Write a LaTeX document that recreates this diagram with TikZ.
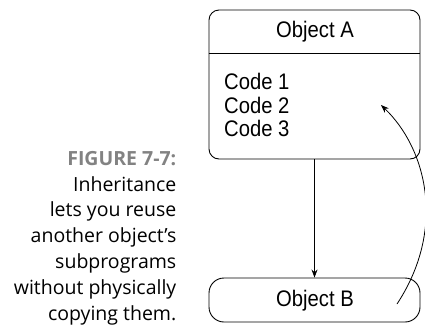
\documentclass[tikz,border=0pt]{standalone}
\usepackage{fontspec}
\setmainfont{Open Sans}
\newfontfamily\condfont[FakeStretch=0.9]{Liberation Sans}
\usetikzlibrary{arrows.meta,positioning}
\definecolor{capgray}{RGB}{130,130,130}

\begin{document}
\begin{tikzpicture}[x=1pt,y=-1pt,
    objbox/.style={draw, line width=0.9pt, minimum width=211pt, inner sep=0pt},
    objtext/.style={font=\condfont\fontsize{22.5}{23.5}\selectfont},
    link/.style={line width=0.8pt, -{Stealth[length=8pt,width=6pt]}}]
   \useasboundingbox (0,0) rectangle (425,327);

   % Draw object boxes
    \node[objbox, rounded corners=10pt, minimum height=149pt] (objA) at (314.5,84.5) {};
    \node[objbox, rounded corners=15pt, minimum height=44pt] (objB) at (314.5,300) {};
    \draw[line width=0.9pt] (objA.west |- 0,53) -- (objA.east |- 0,53);

    % Labels inside the boxes
    \node[objtext] (titleA) at (315,32) {Object A};
    \node[objtext, anchor=north west, align=left, inner sep=0pt] (codeA) at (224,73) {Code 1\\Code 2\\Code 3};
    \node[objtext] (titleB) at (315,301) {Object B};

    % Inheritance links
    \coordinate (bend) at (381,105);
    \draw[link] (objA.south) -- (objB.north);
    \draw[link] (397,304) .. controls (447,228) and (426,148) .. (bend);

    % Figure caption
    \node[anchor=north east, align=right, inner sep=0pt,
          font=\fontsize{19.5}{25.8}\selectfont] (caption) at (176.5,151)
      {{\bfseries\color{capgray}FIGURE 7-7:}\\Inheritance\\lets you reuse\\another object’s\\subprograms\\without physically\\copying them.};
  \end{tikzpicture}
\end{document}
